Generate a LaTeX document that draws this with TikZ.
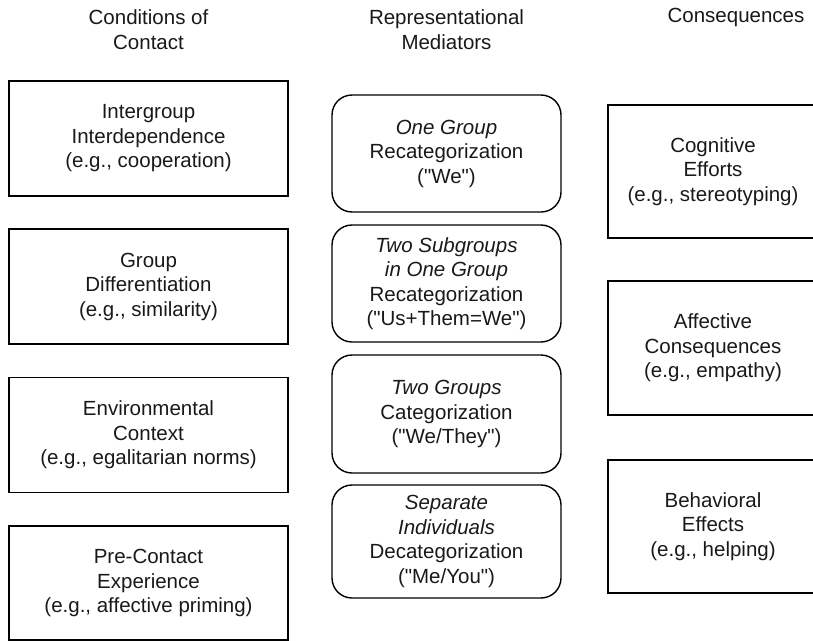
\documentclass[tikz,border=0pt]{standalone}
\usepackage{fontspec}
\setmainfont{Liberation Sans}[Ligatures=TeXOff]
\begin{document}
\begin{tikzpicture}[x=1pt,y=-1pt,
  every node/.style={font=\fontsize{20.5}{24.5}\selectfont, align=center, inner sep=0pt, text=black!90},
  condbox/.style={draw, line width=1.4pt, minimum width=279pt, minimum height=115pt},
  medbox/.style={draw, line width=1.4pt, rounded corners=20pt, minimum width=229pt},
  consbox/.style={draw, line width=1.4pt, minimum width=210pt}]
\useasboundingbox (0,0) rectangle (813,640);
\clip (0,0) rectangle (813,640);
% headers
\node (h1) at (148.5,29.5) {Conditions of\\Contact};
\node (h2) at (446.5,29.5) {Representational\\Mediators};
\node (h3) at (736,17) {Consequences};
% left column
\node[condbox] (c1) at (148.5,138.5) {Intergroup\\Interdependence\\(e.g., cooperation)};
\node[condbox] (c2) at (148.5,286.5) {Group\\Differentiation\\(e.g., similarity)};
\node[condbox] (c3) at (148.5,435) {Environmental\\Context\\(e.g., egalitarian norms)};
\node[condbox, minimum height=114pt] (c4) at (148.5,583) {Pre-Contact\\Experience\\(e.g., affective priming)};
% middle column
\node[medbox, minimum height=117pt] (m1) at (446.5,153.5) {\textit{One Group}\\Recategorization\\("We")};
\node[medbox, minimum height=117pt] (m2) at (446.5,283.5) {\textit{Two Subgroups}\\\textit{in One Group}\\Recategorization\\("Us+Them=We")};
\node[medbox, minimum height=118pt] (m3) at (446.5,414) {\textit{Two Groups}\\Categorization\\("We/They")};
\node[medbox, minimum height=113pt] (m4) at (446.5,541.5) {\textit{Separate}\\\textit{Individuals}\\Decategorization\\("Me/You")};
% right column
\node[consbox, minimum height=133pt] (r1) at (713,171.5) {Cognitive\\Efforts\\(e.g., stereotyping)};
\node[consbox, minimum height=134pt] (r2) at (713,348) {Affective\\Consequences\\(e.g., empathy)};
\node[consbox, minimum height=133pt] (r3) at (713,526.5) {Behavioral\\Effects\\(e.g., helping)};
\end{tikzpicture}
\end{document}
